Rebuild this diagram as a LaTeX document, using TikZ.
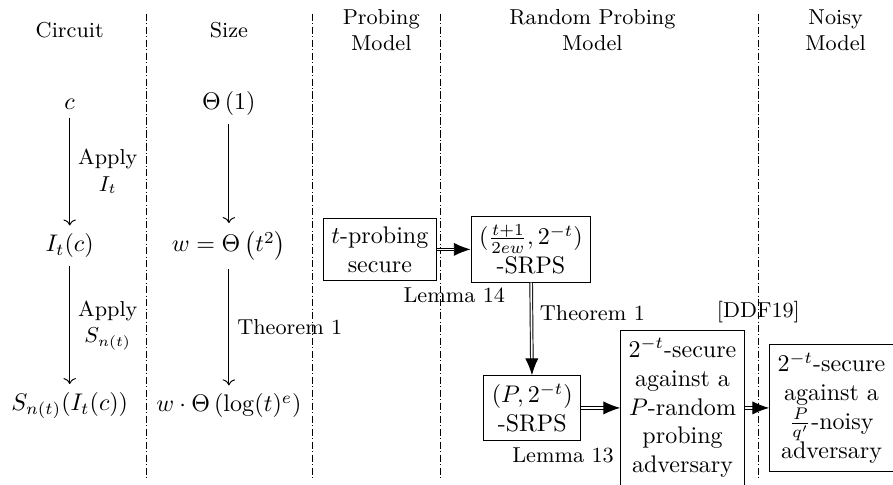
\documentclass[tikz,border=0pt]{standalone}
\usepackage{amsmath}
\usetikzlibrary{arrows.meta,positioning}
\begin{document}
\begin{tikzpicture}
\tikzstyle{box}=[draw, align=center]
\tikzstyle{head}=[font=\small, align=center]
\tikzstyle{lbl}=[font=\small, align=center]
\tikzstyle{sep}=[densely dashdotted]
\tikzstyle{imp}=[double, double distance=0.7pt, -{Latex[length=7pt,width=5.5pt]}]
\useasboundingbox (0,0) rectangle (13.07,-7.09);
\node[head] (hcirc) at (1.02,-0.44) {Circuit};
\node[head] (hsize) at (3.35,-0.44) {Size};
\node[head] (hprob) at (5.58,-0.44) {Probing\\Model};
\node[head] (hrand) at (8.67,-0.44) {Random Probing\\Model};
\node[head] (hnois) at (12.23,-0.44) {Noisy\\Model};
\foreach \x in {2.14,4.57,6.44,11.10}
    \draw[sep] (\x,-0.2) -- (\x,-7.0);
\node (c) at (1.02,-1.52) {$c$};
\node (Ic) at (1.02,-3.6) {$I_t(c)$};
\node (SIc) at (1.02,-5.94) {$S_{n(t)}(I_t(c))$};
\node (sz1) at (3.35,-1.52) {$\Theta\left(1\right)$};
\node (sz2) at (3.35,-3.6) {$w = \Theta\left(t^2\right)$};
\node (sz3) at (3.35,-5.94) {$w \cdot \Theta\left(\log(t)^e\right)$};
\draw[->] (c) -- node[lbl, right] {Apply\\$I_t$} (Ic);
\draw[->] (Ic) -- node[lbl, right] {Apply\\$S_{n(t)}$} (SIc);
\draw[->] (sz1) -- (sz2);
\draw[->] (sz2) -- node[lbl, right] {Theorem 1} (sz3);
\node[box] (prob) at (5.56,-3.65) {$t$-probing\\secure};
\node[box] (srpsA) at (7.77,-3.65) {$(\frac{t+1}{2ew}, 2^{-t})$\\-SRPS};
\node[box] (srpsB) at (7.79,-5.97) {$(P, 2^{-t})$\\-SRPS};
\node[box] (rsec) at (9.99,-5.97) {$2^{-t}$-secure\\against a\\$P$-random\\probing\\adversary};
\node[box] (noisy) at (12.17,-5.97) {$2^{-t}$-secure\\against a\\$\frac{P}{q'}$-noisy\\adversary};
\draw[imp] (prob) -- (srpsA);
\draw[imp] (srpsA) -- node[lbl, right, pos=0.33] {Theorem 1} (srpsB);
\draw[imp] (srpsB) -- (rsec);
\draw[imp] (rsec) -- (noisy);
\node[lbl] (lem14) at (6.65,-4.32) {Lemma 14};
\node[lbl] (lem13) at (8.24,-6.66) {Lemma 13};
\node[lbl] (ddf) at (11.10,-4.57) {[DDF19]};
\end{tikzpicture}
\end{document}
